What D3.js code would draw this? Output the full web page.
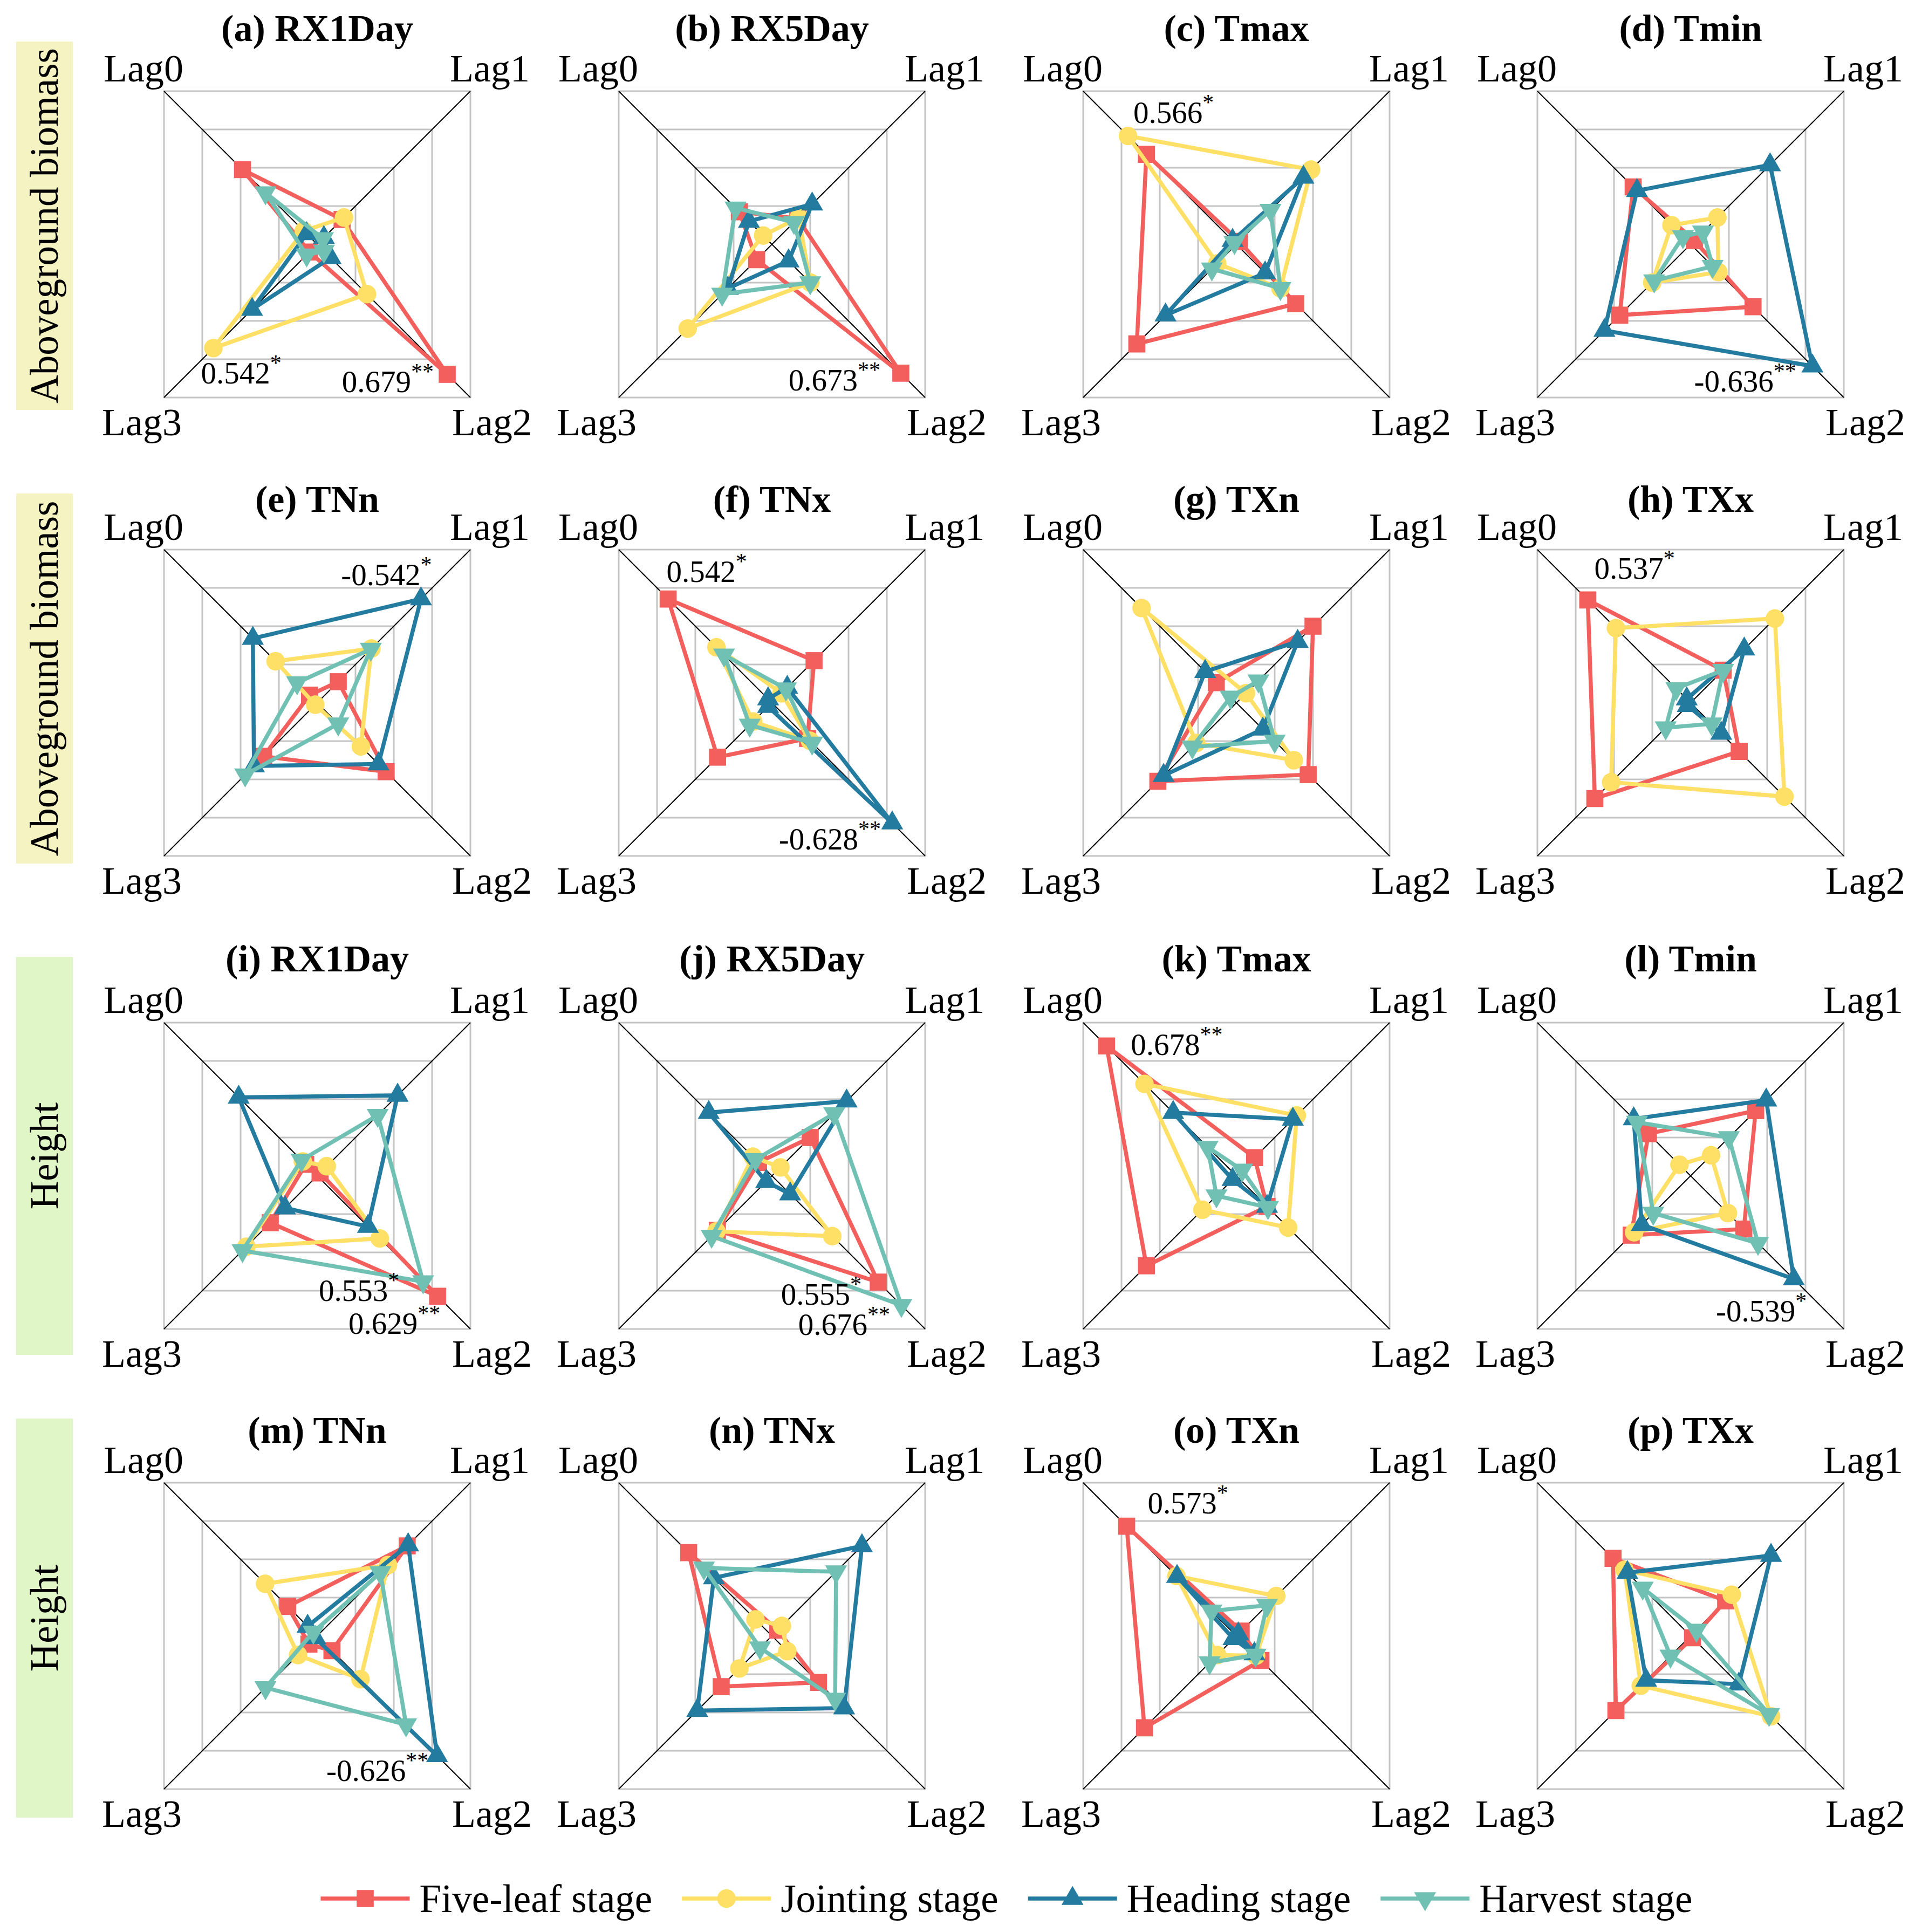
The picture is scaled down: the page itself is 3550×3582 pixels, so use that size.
<!DOCTYPE html>
<html>
<head>
<meta charset="utf-8">
<script src="https://cdn.jsdelivr.net/npm/d3@7"></script>
<style>
html,body{margin:0;padding:0;background:#fff;}
svg text{font-family:"Liberation Serif","Times New Roman",Tinos,"DejaVu Serif",serif;}
</style>
</head>
<body>
<script>
// ---------------- DATA ----------------
const lagLabels = ["Lag0", "Lag1", "Lag2", "Lag3"];
const stageNames = ["Five-leaf stage", "Jointing stage", "Heading stage", "Harvest stage"];
const panelIds = ["a","b","c","d","e","f","g","h","i","j","k","l","m","n","o","p"];
const panelTitles = ["(a) RX1Day","(b) RX5Day","(c) Tmax","(d) Tmin",
                     "(e) TNn","(f) TNx","(g) TXn","(h) TXx",
                     "(i) RX1Day","(j) RX5Day","(k) Tmax","(l) Tmin",
                     "(m) TNn","(n) TNx","(o) TXn","(p) TXx"];
const rowLabels = ["Aboveground biomass", "Aboveground biomass", "Height", "Height"];
const gridLevels = [0.2, 0.4, 0.6, 0.8];

// |r| per panel, values for [Lag0, Lag1, Lag2, Lag3]
const fiveLeaf = [
  [0.39, 0.13, 0.679, 0.04], [0.17, 0.135, 0.673, 0.08], [0.47, 0.015, 0.31, 0.52], [0.30, 0.02, 0.326, 0.37],
  [0.04, 0.11, 0.36, 0.28], [0.542, 0.22, 0.186, 0.284], [0.105, 0.40, 0.375, 0.41], [0.537, 0.17, 0.254, 0.50],
  [0.06, 0.015, 0.629, 0.245], [0.07, 0.20, 0.555, 0.285], [0.678, 0.095, 0.16, 0.47], [0.22, 0.34, 0.278, 0.31],
  [0.154, 0.47, 0.077, 0.043], [0.435, 0.03, 0.243, 0.265], [0.573, 0.025, 0.128, 0.48], [0.405, 0.183, 0.01, 0.39]
];
const jointing = [
  [0.07, 0.14, 0.26, 0.542], [0.046, 0.14, 0.20, 0.44], [0.566, 0.39, 0.23, 0.10], [0.10, 0.14, 0.145, 0.20],
  [0.217, 0.283, 0.228, 0.01], [0.29, 0.05, 0.198, 0.098], [0.495, 0.05, 0.30, 0.21], [0.39, 0.44, 0.49, 0.415],
  [0.075, 0.05, 0.327, 0.37], [0.10, 0.044, 0.315, 0.29], [0.48, 0.315, 0.27, 0.177], [0.058, 0.107, 0.195, 0.295],
  [0.272, 0.37, 0.226, 0.10], [0.086, 0.052, 0.08, 0.17], [0.313, 0.208, 0.103, 0.10], [0.345, 0.215, 0.42, 0.26]
];
const heading = [
  [0.055, 0.035, 0.07, 0.34], [0.12, 0.21, 0.087, 0.23], [0.02, 0.35, 0.15, 0.37], [0.28, 0.415, 0.636, 0.45],
  [0.336, 0.542, 0.32, 0.33], [0.02, 0.08, 0.628, 0.02], [0.163, 0.32, 0.138, 0.38], [0.02, 0.28, 0.16, 0.015],
  [0.41, 0.42, 0.265, 0.168], [0.33, 0.39, 0.095, 0.03], [0.33, 0.295, 0.16, 0.02], [0.297, 0.395, 0.539, 0.255],
  [0.05, 0.475, 0.626, 0.01], [0.303, 0.47, 0.377, 0.39], [0.31, 0.01, 0.094, 0.015], [0.33, 0.42, 0.252, 0.232]
];
const harvest = [
  [0.27, 0.03, 0.035, 0.055], [0.19, 0.115, 0.20, 0.26], [0.01, 0.178, 0.23, 0.128], [0.04, 0.065, 0.115, 0.19],
  [0.105, 0.28, 0.11, 0.376], [0.25, 0.073, 0.21, 0.116], [0.03, 0.115, 0.20, 0.23], [0.075, 0.17, 0.11, 0.13],
  [0.082, 0.316, 0.553, 0.39], [0.085, 0.325, 0.676, 0.315], [0.15, 0.03, 0.165, 0.104], [0.28, 0.20, 0.352, 0.195],
  [0.02, 0.33, 0.464, 0.27], [0.355, 0.335, 0.33, 0.062], [0.13, 0.16, 0.10, 0.14], [0.25, 0.03, 0.41, 0.105]
];

// significant correlations: panel, stage index, lag index, label, stars
const sigPanels = ["a","a","b","c","d","e","f","f","h","i","i","j","j","k","l","m","o"];
const sigStages = [1,0,0,1,2,2,0,2,0,3,0,0,3,0,2,2,0];
const sigLags   = [3,2,2,0,2,1,0,2,0,2,2,2,2,0,2,2,0];
const sigTexts  = ["0.542","0.679","0.673","0.566","-0.636","-0.542","0.542","-0.628","0.537",
                   "0.553","0.629","0.555","0.676","0.678","-0.539","-0.626","0.573"];
const sigStars  = ["*","**","**","*","**","*","*","**","*","*","**","*","**","**","*","**","*"];

// ---------------- LAYOUT / STYLE ----------------
const W = 3550, H = 3582;
const FONT = '"Liberation Serif","Times New Roman",Tinos,"DejaVu Serif",serif';
const colCenters = [588, 1431, 2292, 3134];
const rowCenters = [453, 1303, 2180, 3033];
const HALF = 284;
const titleGap = [93, 70, 95, 74];
const boxSpans = [[77, 760], [915, 1601], [1774, 2512], [2630, 3370]];
const boxColors = ["#f6f3c3", "#f6f3c3", "#e1f6c6", "#e1f6c6"];
const colors = ["#F25F5C", "#FFE066", "#247BA0", "#70C1B3"];
const seriesData = [fiveLeaf, jointing, heading, harvest];
const dirs = [[-1,-1],[1,-1],[1,1],[-1,1]];
// annotation placement: anchor, dx, dy relative to the marked point
const sigAnchor = ["start","end","end","start","end","end","start","end","start","end","end","end","end","start","end","end","start"];
const sigDx = [-23,-25,-38,10,-30,20,-3,-21,12,-44,5,-31,-21,45,24,-16,39];
const sigDy = [66,33,32,-24,47,-26,-32,49,-39,36,70,42,55,17,79,47,-24];

const svg = d3.select("body").append("svg")
  .attr("width", W).attr("height", H).attr("viewBox", `0 0 ${W} ${H}`)
  .attr("font-family", FONT);
svg.append("rect").attr("width", W).attr("height", H).attr("fill", "#fff");

const r = d3.scaleLinear().domain([0, 0.8]).range([0, HALF]);

function symbolFor(s) {
  const types = [d3.symbolSquare, d3.symbolCircle, d3.symbolTriangle, d3.symbolTriangle];
  const sizes = [1000, 930, 720, 720];
  return d3.symbol().type(types[s]).size(sizes[s])();
}

// Side labels
rowLabels.forEach((lab, i) => {
  const [y0, y1] = boxSpans[i];
  svg.append("rect").attr("x", 30).attr("y", y0).attr("width", 105).attr("height", y1 - y0)
    .attr("fill", boxColors[i]);
  svg.append("text")
    .attr("transform", `translate(${82},${(y0 + y1) / 2}) rotate(-90)`)
    .attr("text-anchor", "middle").attr("dominant-baseline", "central")
    .attr("font-family", FONT)
    .attr("font-size", 73).attr("fill", "#000").text(lab);
});

const line = d3.line().curve(d3.curveLinearClosed);

panelIds.forEach((pid, i) => {
  const row = Math.floor(i / 4), col = i % 4;
  const g = svg.append("g").attr("transform", `translate(${colCenters[col]},${rowCenters[row]})`);

  // grid squares
  gridLevels.forEach(l => {
    g.append("rect").attr("x", -r(l)).attr("y", -r(l)).attr("width", 2 * r(l)).attr("height", 2 * r(l))
      .attr("fill", "none").attr("stroke", "#c4c4c4").attr("stroke-width", 3);
  });
  // diagonal axes
  dirs.forEach(d => {
    g.append("line").attr("x1", 0).attr("y1", 0)
      .attr("x2", d[0] * r(0.8)).attr("y2", d[1] * r(0.8))
      .attr("stroke", "#000").attr("stroke-width", 2);
  });

  // lag labels
  const lagPos = [
    {x: -HALF + 36, y: -HALF - 18, a: "end"},
    {x: HALF - 38, y: -HALF - 18, a: "start"},
    {x: HALF - 34, y: HALF + 70, a: "start"},
    {x: -HALF + 33, y: HALF + 70, a: "end"}
  ];
  lagLabels.forEach((lab, k) => {
    g.append("text").attr("x", lagPos[k].x).attr("y", lagPos[k].y)
      .attr("text-anchor", lagPos[k].a).attr("font-family", FONT)
      .attr("font-size", 72).attr("fill", "#000").text(lab);
  });

  // title
  g.append("text").attr("x", 0).attr("y", -HALF - titleGap[row])
    .attr("text-anchor", "middle").attr("font-family", FONT)
    .attr("font-size", 70).attr("font-weight", "bold")
    .attr("fill", "#000").text(panelTitles[i]);

  // series
  seriesData.forEach((sd, s) => {
    const pts = sd[i].map((v, k) => [dirs[k][0] * r(v), dirs[k][1] * r(v)]);
    g.append("path").attr("d", line(pts)).attr("fill", "none")
      .attr("stroke", colors[s]).attr("stroke-width", 7.5).attr("stroke-linejoin", "miter");
    pts.forEach(p => {
      g.append("path").attr("d", symbolFor(s))
        .attr("transform", `translate(${p[0]},${p[1]})${s === 3 ? " rotate(180)" : ""}`)
        .attr("fill", colors[s]);
    });
  });

  // significance labels
  sigPanels.forEach((sp, j) => {
    if (sp !== pid) return;
    const v = seriesData[sigStages[j]][i][sigLags[j]];
    const d = dirs[sigLags[j]];
    const px = d[0] * r(v), py = d[1] * r(v);
    const t = g.append("text").attr("x", px + sigDx[j]).attr("y", py + sigDy[j])
      .attr("text-anchor", sigAnchor[j]).attr("font-family", FONT)
      .attr("font-size", 57).attr("fill", "#000");
    t.append("tspan").text(sigTexts[j]);
    t.append("tspan").attr("dy", -24).attr("font-size", 42).text(sigStars[j]);
  });
});

// Legend
const legY = 3520;
const leg = svg.append("g");
let lx = 0;
stageNames.forEach((name, s) => {
  const it = leg.append("g").attr("transform", `translate(${lx},0)`);
  it.append("line").attr("x1", 0).attr("x2", 165).attr("y1", legY).attr("y2", legY)
    .attr("stroke", colors[s]).attr("stroke-width", 7.5);
  it.append("path").attr("d", symbolFor(s))
    .attr("transform", `translate(82.5,${legY})${s === 3 ? " rotate(180)" : ""}`)
    .attr("fill", colors[s]);
  const tx = it.append("text").attr("x", 183).attr("y", legY + 25)
    .attr("font-family", FONT)
    .attr("font-size", 73).attr("fill", "#000").text(name);
  const w = tx.node().getComputedTextLength();
  lx += 183 + w + 55;
});
const totalW = lx - 55;
leg.attr("transform", `translate(${1866 - totalW / 2},0)`);
</script>
</body>
</html>
